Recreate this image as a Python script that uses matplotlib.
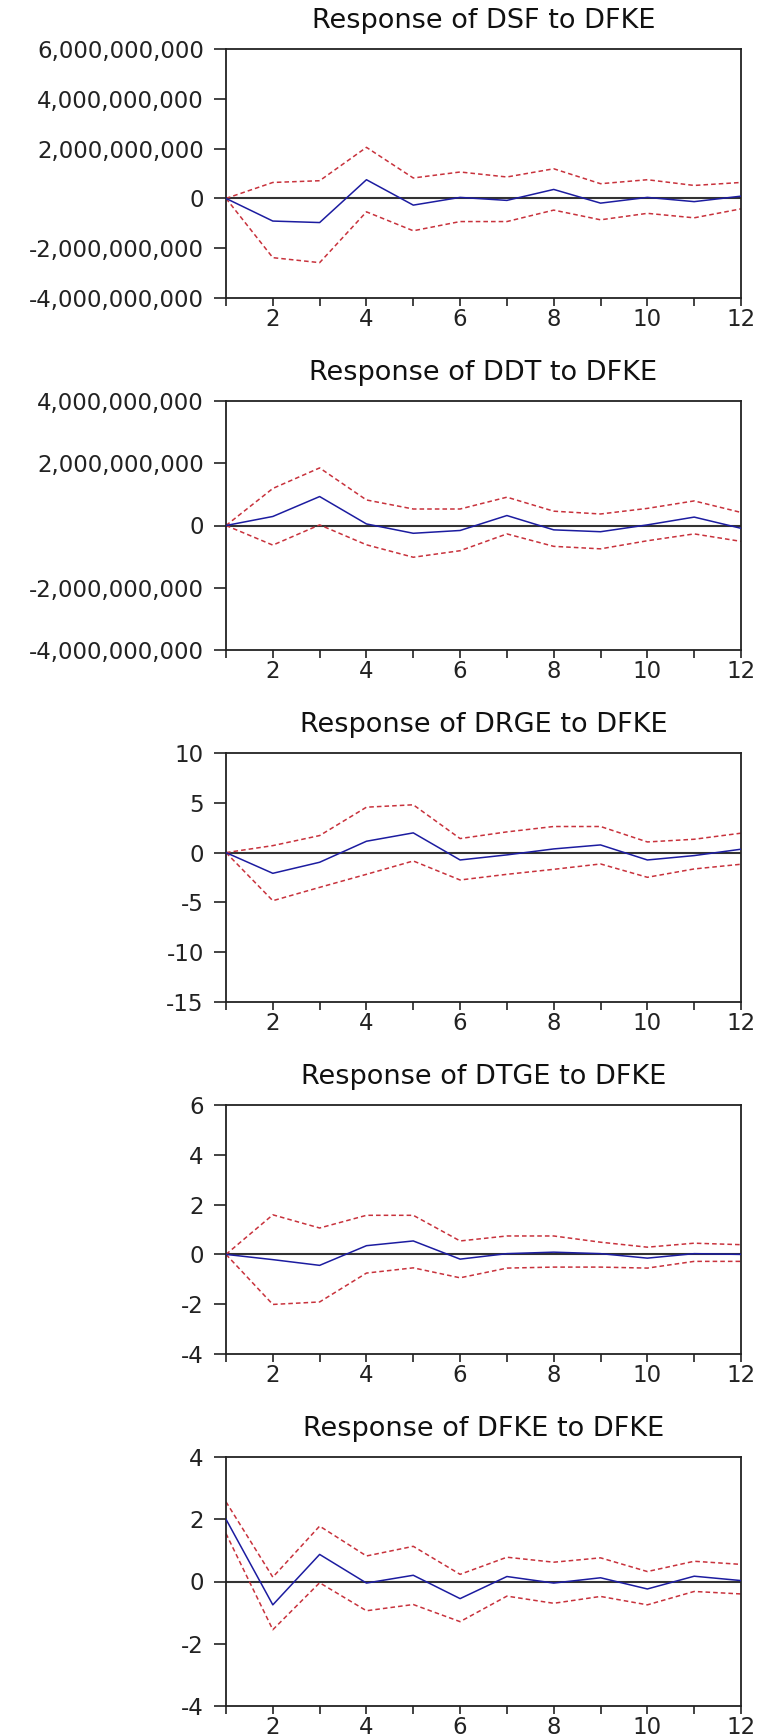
import matplotlib

matplotlib.use("Agg")

import matplotlib.pyplot as plt
from matplotlib.ticker import FuncFormatter

# impulse responses to a DFKE shock, periods 1..12
periods = list(range(1, 13))

titles = [
    "Response of DSF to DFKE",
    "Response of DDT to DFKE",
    "Response of DRGE to DFKE",
    "Response of DTGE to DFKE",
    "Response of DFKE to DFKE",
]

dsf_resp = [0, -0.91e9, -0.97e9, 0.75e9, -0.27e9, 0.04e9, -0.08e9, 0.36e9, -0.19e9, 0.04e9, -0.13e9, 0.09e9]
dsf_upper = [0, 0.64e9, 0.71e9, 2.05e9, 0.82e9, 1.06e9, 0.86e9, 1.19e9, 0.59e9, 0.75e9, 0.52e9, 0.64e9]
dsf_lower = [0, -2.38e9, -2.58e9, -0.54e9, -1.30e9, -0.93e9, -0.93e9, -0.47e9, -0.86e9, -0.60e9, -0.78e9, -0.42e9]

ddt_resp = [0, 0.29e9, 0.93e9, 0.05e9, -0.25e9, -0.16e9, 0.32e9, -0.14e9, -0.20e9, 0.02e9, 0.27e9, -0.09e9]
ddt_upper = [0, 1.19e9, 1.85e9, 0.82e9, 0.53e9, 0.53e9, 0.91e9, 0.46e9, 0.37e9, 0.55e9, 0.79e9, 0.42e9]
ddt_lower = [0, -0.63e9, 0.02e9, -0.62e9, -1.02e9, -0.81e9, -0.27e9, -0.67e9, -0.75e9, -0.49e9, -0.27e9, -0.51e9]

drge_resp = [0, -2.08, -0.97, 1.14, 1.98, -0.74, -0.23, 0.37, 0.77, -0.74, -0.30, 0.34]
drge_upper = [0, 0.70, 1.71, 4.56, 4.80, 1.41, 2.08, 2.62, 2.62, 1.07, 1.34, 1.95]
drge_lower = [0, -4.83, -3.49, -2.18, -0.84, -2.75, -2.18, -1.68, -1.14, -2.48, -1.64, -1.17]

dtge_resp = [0, -0.21, -0.44, 0.35, 0.54, -0.19, 0.03, 0.09, 0.03, -0.15, 0.03, 0.0]
dtge_upper = [0, 1.59, 1.06, 1.57, 1.57, 0.54, 0.74, 0.74, 0.49, 0.29, 0.45, 0.39]
dtge_lower = [0, -2.01, -1.91, -0.75, -0.54, -0.94, -0.55, -0.51, -0.51, -0.55, -0.28, -0.28]

dfke_resp = [2.0, -0.75, 0.87, -0.05, 0.20, -0.55, 0.16, -0.05, 0.12, -0.24, 0.17, 0.03]
dfke_upper = [2.56, 0.14, 1.78, 0.82, 1.13, 0.23, 0.78, 0.62, 0.76, 0.32, 0.65, 0.55]
dfke_lower = [1.54, -1.55, -0.04, -0.94, -0.74, -1.29, -0.47, -0.70, -0.48, -0.75, -0.32, -0.40]

responses = [dsf_resp, ddt_resp, drge_resp, dtge_resp, dfke_resp]
uppers = [dsf_upper, ddt_upper, drge_upper, dtge_upper, dfke_upper]
lowers = [dsf_lower, ddt_lower, drge_lower, dtge_lower, dfke_lower]

y_ticks = [
    [-4e9, -2e9, 0, 2e9, 4e9, 6e9],
    [-4e9, -2e9, 0, 2e9, 4e9],
    [-15, -10, -5, 0, 5, 10],
    [-4, -2, 0, 2, 4, 6],
    [-4, -2, 0, 2, 4],
]

W, H = 757, 1736
fig = plt.figure(figsize=(W / 100, H / 100), dpi=100)
plt.rcParams["font.family"] = ["DejaVu Sans"]

box_left, box_right = 226, 741
box_tops = [49, 401, 753, 1105, 1457]
box_h = 249

comma_fmt = FuncFormatter(lambda v, pos: f"{v:,.0f}")

for i in range(5):
    top = box_tops[i]
    ax = fig.add_axes([box_left / W, 1 - (top + box_h) / H, (box_right - box_left) / W, box_h / H])
    ax.plot(periods, uppers[i], color="#c8323c", lw=1.1, ls=(0, (3, 2)))
    ax.plot(periods, lowers[i], color="#c8323c", lw=1.1, ls=(0, (3, 2)))
    ax.axhline(0, color="#333333", lw=1.5, zorder=1)
    ax.plot(periods, responses[i], color="#1c1ca0", lw=1.1, zorder=3)

    ax.set_xlim(1, 12)
    ax.set_ylim(y_ticks[i][0], y_ticks[i][-1])
    ax.set_xticks(periods)
    ax.set_xticklabels([str(p) if p % 2 == 0 else "" for p in periods])
    ax.set_yticks(y_ticks[i])
    ax.yaxis.set_major_formatter(comma_fmt)
    ax.tick_params(axis="x", direction="out", length=6, width=1.2, pad=1.5, labelsize=16.5, colors="#222222")
    ax.tick_params(axis="y", direction="out", length=9, width=1.2, pad=7, labelsize=16.5, colors="#222222")
    for s in ax.spines.values():
        s.set_linewidth(1.3)
        s.set_color("#222222")
    ax.set_title(titles[i], fontsize=19.5, pad=15, color="#111111")

fig.savefig("out.png", dpi=100)
plt.close(fig)
